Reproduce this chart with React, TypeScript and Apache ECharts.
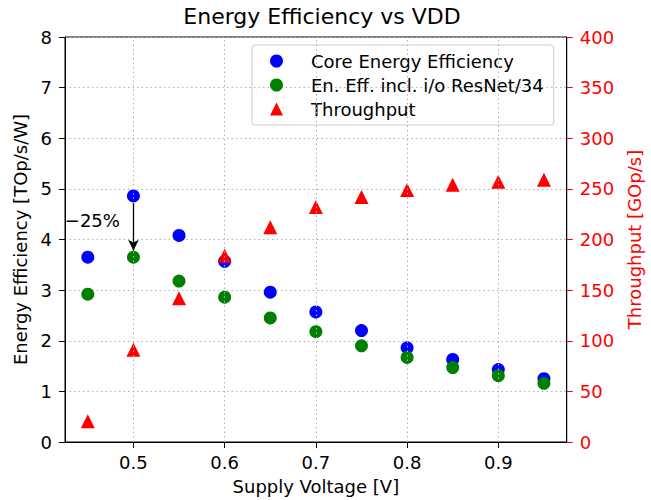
import React, { useEffect, useRef } from "react";
import * as echarts from "echarts";

const voltages = [0.45, 0.5, 0.55, 0.6, 0.65, 0.7, 0.75, 0.8, 0.85, 0.9, 0.95];
const coreEff = [3.65, 4.86, 4.08, 3.57, 2.96, 2.57, 2.2, 1.86, 1.63, 1.43, 1.25];
const ioEff = [2.92, 3.65, 3.18, 2.86, 2.45, 2.18, 1.9, 1.67, 1.47, 1.31, 1.16];
const throughput = [20.6, 91, 142, 184, 212, 232, 242, 249, 254, 257, 259];
const xTicks = [0.5, 0.6, 0.7, 0.8, 0.9];
const arrowFrom = [0.5, 4.72];
const arrowTo = [0.5, 3.78];
const annotText = "\u221225%";
const annotPos = [0.455, 4.37];

const FONT = "DejaVu Sans";
const FS = 18;
const GRID_LINE = { color: "#b0b0b0", type: [1.5, 3] as any, width: 1 };

export default function App() {
  const ref = useRef<HTMLDivElement>(null);
  useEffect(() => {
    const chart = echarts.init(ref.current!, null, { renderer: "svg" });
    const pairs = (ys: number[]) => voltages.map((v, i) => [v, ys[i]]);
    chart.setOption({
      animation: false,
      textStyle: { fontFamily: FONT },
      title: {
        text: "Energy Efficiency vs VDD",
        left: 317,
        textAlign: "center",
        top: 0,
        textStyle: { fontFamily: FONT, fontSize: 22, fontWeight: "normal", color: "#000" },
      },
      grid: {
        left: 65,
        right: 82,
        top: 37,
        bottom: 55,
        show: true,
        borderColor: "#000",
        borderWidth: 1,
        backgroundColor: "transparent",
      },
      legend: {
        orient: "vertical",
        left: 252,
        top: 45,
        width: 308,
        padding: [7, 10, 7, 18],
        itemGap: 6,
        itemWidth: 13,
        itemHeight: 13,
        borderColor: "#cccccc",
        borderWidth: 1,
        borderRadius: 3,
        textStyle: { fontFamily: FONT, fontSize: FS, color: "#000", padding: [0, 0, 0, 23] },
        data: [
          { name: "Core Energy Efficiency", icon: "circle" },
          { name: "En. Eff. incl. i/o ResNet/34", icon: "circle" },
          { name: "Throughput", icon: "triangle" },
        ],
      },
      xAxis: {
        type: "value",
        min: 0.425,
        max: 0.975,
        name: "Supply Voltage [V]",
        nameLocation: "middle",
        nameGap: 35,
        nameTextStyle: { fontFamily: FONT, fontSize: FS, color: "#000" },
        axisLine: { show: true, lineStyle: { color: "#000" } },
        axisTick: { show: true, inside: false, length: 6, customValues: xTicks, lineStyle: { color: "#000" } },
        axisLabel: {
          customValues: xTicks,
          fontFamily: FONT,
          fontSize: FS,
          color: "#000",
          margin: 11,
          formatter: (v: number) => v.toFixed(1),
        },
        splitLine: { show: false },
      },
      yAxis: [
        {
          type: "value",
          min: 0,
          max: 8,
          interval: 1,
          name: "Energy Efficiency [TOp/s/W]",
          nameLocation: "middle",
          nameGap: 33,
          nameTextStyle: { fontFamily: FONT, fontSize: FS, color: "#000" },
          axisLine: { show: true, lineStyle: { color: "#000" } },
          axisTick: { show: true, inside: false, length: 6, lineStyle: { color: "#000" } },
          axisLabel: { fontFamily: FONT, fontSize: FS, color: "#000", margin: 13 },
          splitLine: { show: true, lineStyle: GRID_LINE },
        },
        {
          type: "value",
          min: 0,
          max: 400,
          interval: 50,
          position: "right",
          name: "Throughput [GOp/s]",
          nameLocation: "middle",
          nameRotate: 90,
          nameGap: 54,
          nameTextStyle: { fontFamily: FONT, fontSize: FS, color: "#ff0000" },
          axisLine: { show: true, lineStyle: { color: "#000" } },
          axisTick: { show: true, inside: false, length: 6, lineStyle: { color: "#ff0000" } },
          axisLabel: { fontFamily: FONT, fontSize: FS, color: "#ff0000", margin: 13 },
          splitLine: { show: false },
        },
      ],
      series: [
        {
          name: "gridX",
          type: "line",
          data: [],
          silent: true,
          markLine: {
            silent: true,
            symbol: ["none", "none"],
            label: { show: false },
            lineStyle: GRID_LINE,
            data: xTicks.map((v) => ({ xAxis: v })),
          },
          z: 0,
        },
        {
          name: "Core Energy Efficiency",
          type: "scatter",
          symbol: "circle",
          symbolSize: 13,
          itemStyle: { color: "#0000ff", opacity: 1 },
          data: pairs(coreEff),
          z: 2,
          markLine: {
            silent: true,
            symbol: ["none", "arrow"],
            symbolSize: [8, 11],
            label: { show: false },
            lineStyle: { color: "#000", type: "solid", width: 1.3 },
            data: [[{ coord: arrowFrom }, { coord: arrowTo }]],
          },
        },
        {
          name: "En. Eff. incl. i/o ResNet/34",
          type: "scatter",
          symbol: "circle",
          symbolSize: 13,
          itemStyle: { color: "#008000", opacity: 1 },
          data: pairs(ioEff),
          z: 3,
        },
        {
          name: "Throughput",
          type: "scatter",
          symbol: "triangle",
          symbolSize: 14,
          yAxisIndex: 1,
          itemStyle: { color: "#ff0000", opacity: 1 },
          data: pairs(throughput),
          z: 4,
        },
        {
          name: "annot",
          type: "scatter",
          symbolSize: 1,
          silent: true,
          itemStyle: { color: "rgba(0,0,0,0)" },
          data: [annotPos],
          label: {
            show: true,
            position: "inside",
            formatter: annotText,
            fontFamily: FONT,
            fontSize: FS,
            color: "#000000",
            opacity: 1,
            textBorderWidth: 0,
            textBorderColor: "transparent",
          },
          z: 5,
        },
      ],
    });
    return () => chart.dispose();
  }, []);
  return <div ref={ref} style={{ width: 651, height: 500, position: "absolute", left: 0, top: 0 }} />;
}
